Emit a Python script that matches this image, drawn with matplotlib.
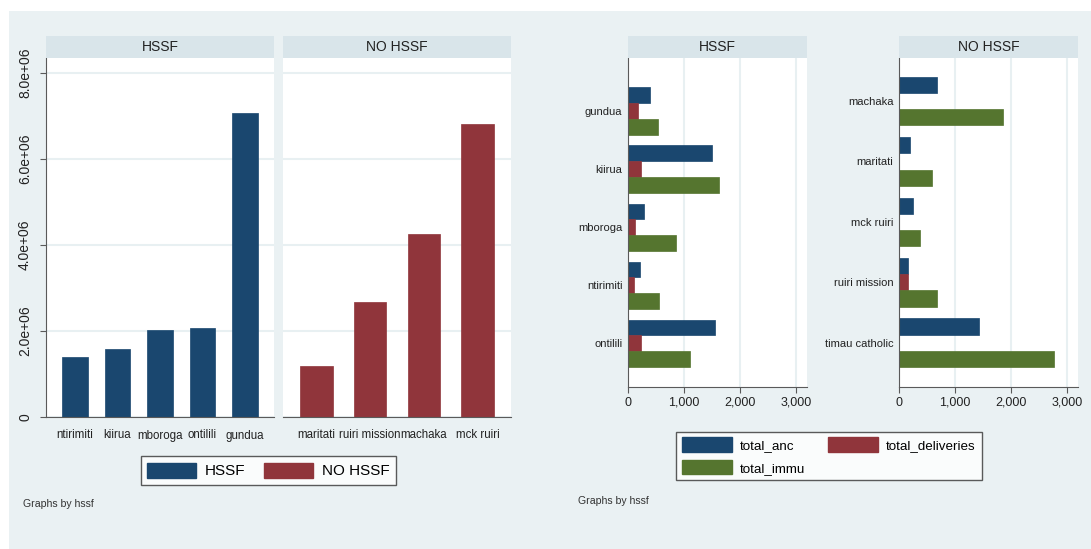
import matplotlib
matplotlib.use("Agg")
import matplotlib.pyplot as plt
from matplotlib.patches import Rectangle, Patch
from matplotlib.ticker import FuncFormatter

# left graph: totals by facility
hssf_fac = ["ntirimiti", "kiirua", "mboroga", "ontilili", "gundua"]
hssf_tot = [1.395e6, 1.59e6, 2.02e6, 2.06e6, 7.07e6]
nohssf_fac = ["maritati", "ruiri mission", "machaka", "mck ruiri"]
nohssf_tot = [1.19e6, 2.67e6, 4.26e6, 6.81e6]

# right graph: services by facility
hssf_fac2 = ["gundua", "kiirua", "mboroga", "ntirimiti", "ontilili"]
hssf_anc = [388, 1503, 287, 216, 1560]
hssf_deliv = [183, 228, 133, 110, 228]
hssf_immu = [545, 1624, 852, 554, 1104]
nohssf_fac2 = ["machaka", "maritati", "mck ruiri", "ruiri mission", "timau catholic"]
nohssf_anc = [676, 194, 247, 165, 1429]
nohssf_deliv = [0, 0, 0, 165, 0]
nohssf_immu = [1859, 582, 371, 676, 2776]

BLUE = "#1a476f"
RED = "#90353b"
GREEN = "#55752f"
BG = "#eaf1f3"
STRIP = "#d9e5ea"
GRID = "#e8f0f2"
AXC = "#5a5a5a"
TXT = "#222222"

plt.rcParams["font.family"] = ["Liberation Sans", "DejaVu Sans"]

W, H = 1091, 549
fig = plt.figure(figsize=(W / 100, H / 100), dpi=100)
fig.patch.set_facecolor("white")


def px_rect(x0, y0, x1, y1):
    # pixel box (top-left origin) -> figure fraction rect
    return [x0 / W, 1 - y1 / H, (x1 - x0) / W, (y1 - y0) / H]


# background
bg = px_rect(9, 11, W, H)
fig.add_artist(Rectangle((bg[0], bg[1]), bg[2], bg[3], transform=fig.transFigure,
                         facecolor=BG, edgecolor="none", zorder=-10))


def strip(x0, x1, label, size=10):
    r = px_rect(x0, 36, x1, 58)
    fig.add_artist(Rectangle((r[0], r[1]), r[2], r[3], transform=fig.transFigure,
                             facecolor=STRIP, edgecolor="none"))
    fig.text(r[0] + r[2] / 2, r[1] + r[3] / 2, label, ha="center", va="center",
             fontsize=size, color=TXT)


def style(ax):
    ax.set_facecolor("white")
    for s in ["top", "right"]:
        ax.spines[s].set_visible(False)
    ax.spines["bottom"].set_color(AXC)
    ax.spines["left"].set_color(AXC)
    ax.set_axisbelow(True)


# ---- left graph: vertical bars ----
ax1 = fig.add_axes(px_rect(46, 58, 274, 417))
ax2 = fig.add_axes(px_rect(283, 58, 511, 417))
for ax, fac, vals, col, xl in [(ax1, hssf_fac, hssf_tot, BLUE, (-0.685, 4.685)),
                               (ax2, nohssf_fac, nohssf_tot, RED, (-0.625, 3.625))]:
    style(ax)
    ax.bar(range(len(fac)), vals, width=0.6, color=col, edgecolor=col, linewidth=0.5)
    ax.set_xlim(*xl)
    ax.set_ylim(0, 8.35e6)
    ax.set_xticks(range(len(fac)))
    ax.set_xticklabels(fac, fontsize=8.3, color=TXT)
    ax.tick_params(axis="x", length=0, pad=9)
    ax.set_yticks([0, 2e6, 4e6, 6e6, 8e6])
    ax.yaxis.grid(True, color=GRID, linewidth=1.5)
ax1.set_yticklabels(["0", "2.0e+06", "4.0e+06", "6.0e+06", "8.0e+06"],
                    rotation=90, va="center", fontsize=10, color=TXT)
ax1.tick_params(axis="y", length=4, color=AXC, pad=6)
ax2.spines["left"].set_visible(False)
ax2.tick_params(axis="y", length=0, labelleft=False)
strip(46, 274, "HSSF")
strip(283, 511, "NO HSSF")

fig.legend(handles=[Patch(facecolor=BLUE, edgecolor=BLUE, label="HSSF"),
                    Patch(facecolor=RED, edgecolor=RED, label="NO HSSF")],
           loc="center", bbox_to_anchor=((148 + 389) / 2 / W, 1 - 470.5 / H),
           ncol=2, fontsize=11, frameon=True, fancybox=False, edgecolor="#333333",
           handlelength=3.2, handleheight=1.18, columnspacing=1.25, borderpad=0.4,
           handletextpad=0.57)
fig.text(23 / W, 1 - 504 / H, "Graphs by hssf", fontsize=7.6, va="center", color="#333333")

# ---- right graph: horizontal grouped bars ----
ax3 = fig.add_axes(px_rect(628, 58, 807, 387))
ax4 = fig.add_axes(px_rect(899, 58, 1078, 387))
panels = [(ax3, hssf_fac2, hssf_anc, hssf_deliv, hssf_immu, 0.271, (4.752, -0.912)),
          (ax4, nohssf_fac2, nohssf_anc, nohssf_deliv, nohssf_immu, 0.268, (4.733, -0.712))]
for ax, fac, anc, dl, im, h, yl in panels:
    style(ax)
    pos = list(range(len(fac)))
    ax.barh([p - h for p in pos], anc, height=h, color=BLUE, edgecolor=BLUE, linewidth=0.5)
    ax.barh(pos, dl, height=h, color=RED, edgecolor=RED, linewidth=0.5)
    ax.barh([p + h for p in pos], im, height=h, color=GREEN, edgecolor=GREEN, linewidth=0.5)
    ax.set_ylim(*yl)
    ax.set_xlim(0, 3200)
    ax.set_yticks(pos)
    ax.set_yticklabels(fac, fontsize=8, color=TXT)
    ax.tick_params(axis="y", length=0, pad=4)
    ax.set_xticks([0, 1000, 2000, 3000])
    ax.xaxis.set_major_formatter(FuncFormatter(lambda v, p: f"{int(v):,}"))
    ax.tick_params(axis="x", length=4, color=AXC, labelsize=9, labelcolor=TXT, pad=3)
    ax.xaxis.grid(True, color=GRID, linewidth=1.5)
strip(628, 807, "HSSF")
strip(899, 1078, "NO HSSF")

fig.legend(handles=[Patch(facecolor=BLUE, edgecolor=BLUE, label="total_anc"),
                    Patch(facecolor=GREEN, edgecolor=GREEN, label="total_immu"),
                    Patch(facecolor=RED, edgecolor=RED, label="total_deliveries")],
           loc="center", bbox_to_anchor=((675 + 983) / 2 / W, 1 - 456 / H),
           ncol=2, fontsize=9.6, frameon=True, fancybox=False, edgecolor="#333333",
           handlelength=3.75, handleheight=1.28, columnspacing=1.7, borderpad=0.43,
           handletextpad=0.6, labelspacing=0.6)
fig.text(578 / W, 1 - 501 / H, "Graphs by hssf", fontsize=7.6, va="center", color="#333333")

fig.savefig("out.png", dpi=100)
